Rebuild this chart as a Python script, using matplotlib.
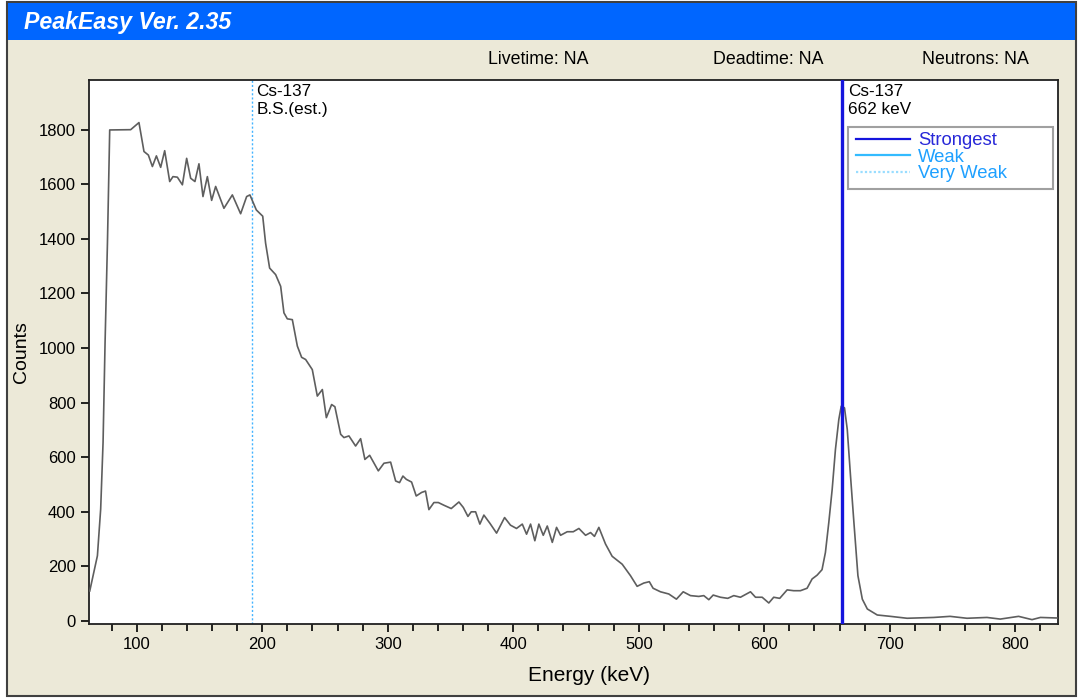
import matplotlib
matplotlib.use("Agg")
import matplotlib.pyplot as plt
from matplotlib.patches import Rectangle
from matplotlib.lines import Line2D
from matplotlib.ticker import MultipleLocator

plt.rcParams['font.family'] = ['Liberation Sans', 'DejaVu Sans']

energy_kev = [62.6, 68.7, 71.3, 73.2, 74.8, 76.7, 78.5,
              95.2, 101.8, 105.8, 109.3, 112.5, 115.7, 119.1,
              122.3, 126.3, 128.9, 132.4, 136.4, 139.8, 143.0,
              146.4, 149.6, 152.8, 156.3, 159.7, 162.9, 169.5,
              176.2, 182.8, 187.6, 190.2, 195.3, 200.4, 202.7,
              205.9, 210.7, 214.7, 217.3, 220.0, 224.0, 228.0,
              231.4, 234.6, 239.9, 243.9, 247.9, 251.1, 255.3,
              257.9, 262.5, 265.1, 269.1, 274.4, 278.4, 281.8,
              285.6, 292.5, 297.0, 302.3, 306.3, 309.4, 312.1,
              314.8, 319.0, 322.7, 327.0, 330.1, 332.8, 336.8,
              340.3, 344.8, 350.6, 356.7, 360.2, 363.9, 366.5,
              370.0, 373.4, 376.6, 381.4, 386.7, 393.1, 397.8,
              402.6, 407.2, 410.6, 413.8, 417.2, 420.4, 423.9,
              427.1, 431.1, 434.5, 437.7, 443.0, 447.8, 452.3,
              457.6, 461.6, 464.7, 468.2, 473.5, 478.8, 486.8,
              493.4, 498.7, 504.0, 508.4, 511.4, 517.3, 523.9,
              530.0, 535.4, 541.2, 547.8, 551.8, 555.8, 559.3,
              565.1, 570.9, 575.7, 581.0, 589.0, 593.0, 598.3,
              603.6, 607.5, 612.3, 618.2, 623.4, 628.8, 634.1,
              638.1, 642.1, 646.0, 648.7, 651.4, 654.1, 656.7,
              659.4, 661.3, 663.9, 666.1, 668.7, 671.4, 674.6,
              678.1, 682.1, 690.0, 700.5, 713.8, 735.0, 748.0,
              761.5, 777.4, 788.0, 802.6, 813.3, 820.0, 833.2]

counts = [110, 239, 410, 654, 1020, 1386, 1799,
          1800, 1826, 1720, 1707, 1665, 1704, 1662,
          1723, 1610, 1628, 1626, 1598, 1695, 1622,
          1610, 1675, 1555, 1628, 1541, 1592, 1512,
          1561, 1492, 1555, 1561, 1506, 1483, 1384,
          1293, 1269, 1226, 1129, 1107, 1104, 1007,
          966, 958, 921, 824, 848, 745, 793,
          785, 684, 672, 678, 641, 668, 592,
          607, 550, 578, 582, 513, 507, 531,
          519, 509, 458, 471, 476, 408, 434,
          434, 424, 412, 436, 416, 383, 400,
          400, 355, 388, 358, 322, 379, 351,
          339, 355, 318, 355, 294, 355, 314,
          348, 288, 343, 314, 327, 327, 339,
          314, 324, 310, 343, 282, 237, 208,
          166, 127, 139, 144, 120, 107, 99,
          80, 107, 93, 90, 93, 78, 95,
          87, 83, 93, 87, 107, 87, 87,
          66, 87, 83, 114, 111, 111, 120,
          154, 168, 188, 251, 361, 483, 629,
          739, 787, 781, 702, 531, 361, 166,
          80, 44, 22, 17, 10, 13, 17,
          10, 13, 7, 17, 5, 13, 11]

peak_lines = [662.0]
peak_labels = ["Cs-137\n662 keV"]
very_weak_lines = [192.0]
very_weak_labels = ["Cs-137\nB.S.(est.)"]
header_texts = ["Livetime: NA", "Deadtime: NA", "Neutrons: NA"]
legend_labels = ["Strongest", "Weak", "Very Weak"]

W, H = 1078, 698
fig = plt.figure(figsize=(W / 100, H / 100), dpi=100, facecolor="white")

def fx(px):
    return px / W

def fy(py):
    return 1 - py / H

# window frame
fig.patches.append(Rectangle((fx(7), fy(696)), fx(1076) - fx(7), fy(2) - fy(696),
                             transform=fig.transFigure, facecolor="#ECE9D8",
                             edgecolor="#404040", lw=1.5, zorder=-2))
# title bar
fig.patches.append(Rectangle((fx(8), fy(40)), fx(1075) - fx(8), fy(3) - fy(40),
                             transform=fig.transFigure, facecolor="#0066FF",
                             edgecolor="none", zorder=-1))
fig.text(fx(24), fy(22), "PeakEasy Ver. 2.35", color="white", fontsize=16.7,
         fontweight="bold", fontstyle="italic", va="center", ha="left")

for txt, xc in zip(header_texts, [538, 768, 975]):
    fig.text(fx(xc), fy(59), txt, fontsize=12.8, ha="center", va="center", color="black")

ax = fig.add_axes([fx(89), fy(624), fx(1058) - fx(89), fy(80) - fy(624)])
ax.set_zorder(5)
ax.set_facecolor("white")
ax.plot(energy_kev, counts, color="#5E5E5E", lw=1.2, zorder=3)

for e, lab in zip(very_weak_lines, very_weak_labels):
    ax.axvline(e, color="#44B4FF", lw=1.0, ls=(0, (1.5, 1.5)), zorder=2)
    ax.text(e + 3.5, 1966, lab, fontsize=12.3, va="top", ha="left", linespacing=1.22)
for e, lab in zip(peak_lines, peak_labels):
    ax.axvline(e, color="#1515DD", lw=2.4, zorder=4)
    ax.text(e + 4.5, 1966, lab, fontsize=12.3, va="top", ha="left", linespacing=1.22)

ax.set_xlim(62, 834)
ax.set_ylim(-11, 1982)
ax.xaxis.set_major_locator(MultipleLocator(100))
ax.xaxis.set_minor_locator(MultipleLocator(20))
ax.yaxis.set_major_locator(MultipleLocator(200))
ax.tick_params(axis="both", which="major", direction="out", length=6, width=1.2,
               labelsize=12, colors="black")
ax.tick_params(axis="x", which="minor", direction="out", length=5, width=1.2)
for s in ax.spines.values():
    s.set_linewidth(1.3)
    s.set_color("#202020")
ax.set_xlabel("Energy (keV)", fontsize=15)
ax.xaxis.set_label_coords(0.516, -0.077)
ax.set_ylabel("Counts", fontsize=14, labelpad=6)

# legend box
fig.patches.append(Rectangle((fx(848), fy(189)), fx(1053) - fx(848), fy(127) - fy(189),
                             transform=fig.transFigure, facecolor="white",
                             edgecolor="#A0A0A0", lw=1.5, zorder=10))
handles = [Line2D([], [], color="#1515DD", lw=1.6),
           Line2D([], [], color="#33BBFF", lw=1.6),
           Line2D([], [], color="#99DDFF", lw=1.6, ls=(0, (1, 1)))]
leg = fig.legend(handles, legend_labels, loc="upper left",
                 bbox_to_anchor=(fx(856), fy(132)), bbox_transform=fig.transFigure,
                 fontsize=13.3, frameon=False, handlelength=2.9,
                 handletextpad=0.45, labelspacing=-0.02, borderpad=0.0, borderaxespad=0)
leg.set_zorder(11)
for t, c in zip(leg.get_texts(), ["#2828D8", "#1EA0FF", "#1EA0FF"]):
    t.set_color(c)

fig.savefig("out.png", dpi=100, facecolor="white")
